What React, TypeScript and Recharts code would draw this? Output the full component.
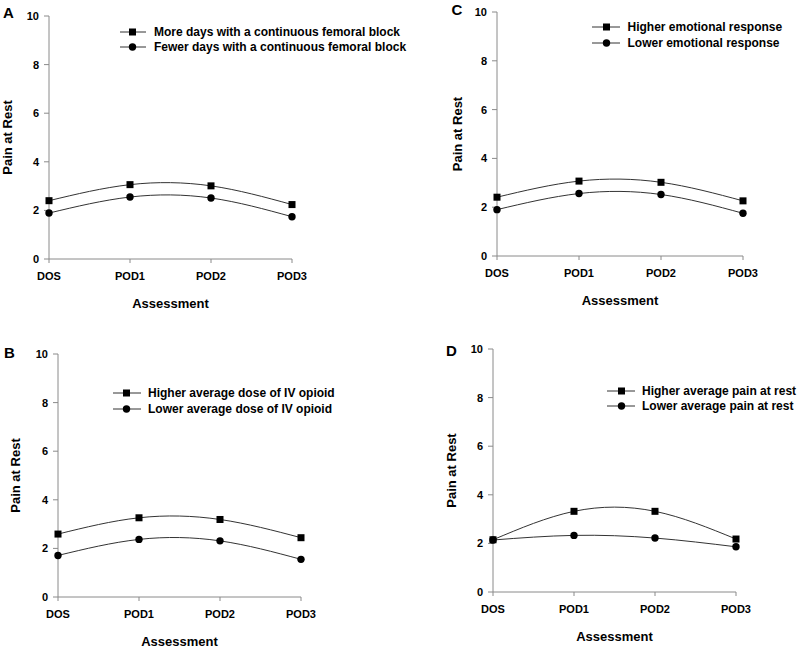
import { LineChart, Line, XAxis, YAxis, Legend } from 'recharts'

const categories = ['DOS', 'POD1', 'POD2', 'POD3']
const yTicks = [0, 2, 4, 6, 8, 10]

// panel A
const moreBlockDays = [2.4, 3.06, 3.01, 2.24]
const fewerBlockDays = [1.89, 2.55, 2.51, 1.74]
// panel B
const higherOpioid = [2.59, 3.26, 3.19, 2.44]
const lowerOpioid = [1.71, 2.37, 2.31, 1.55]
// panel C
const higherEmotional = [2.41, 3.07, 3.02, 2.26]
const lowerEmotional = [1.9, 2.56, 2.52, 1.75]
// panel D
const higherPain = [2.15, 3.32, 3.32, 2.18]
const lowerPain = [2.14, 2.33, 2.22, 1.86]

const toRows = (high: number[], low: number[]) =>
  categories.map((name, i) => ({ name, high: high[i], low: low[i] }))

const FONT = 'Arial, "Liberation Sans", sans-serif'
const AXIS = '#8a8a8a'
const LINE = '#333'
const INK = '#000'

const Y_W = 45
const TOP = 20
const X_H = 55
const PANEL_W = 400

type LegendCfg = { x: number; y: number; lineLen: number; markX: number; gap: number; rowH: number }

type PanelCfg = {
  letter: string
  letterX: number
  letterY: number
  highName: string
  lowName: string
  high: number[]
  low: number[]
  x0: number
  x1: number
  y0: number
  y1: number
  chartLeft: number
  yLabelX: number
  legend: LegendCfg
}

const panels: PanelCfg[] = [
  {
    letter: 'A', letterX: 3, letterY: 5,
    highName: 'More days with a continuous femoral block',
    lowName: 'Fewer days with a continuous femoral block',
    high: moreBlockDays, low: fewerBlockDays,
    x0: 49, x1: 292, y0: 16, y1: 259, chartLeft: 0, yLabelX: 7.5,
    legend: { x: 120, y: 32.3, lineLen: 26, markX: 12.5, gap: 8, rowH: 15 },
  },
  {
    letter: 'B', letterX: 4, letterY: 345,
    highName: 'Higher average dose of IV opioid',
    lowName: 'Lower average dose of IV opioid',
    high: higherOpioid, low: lowerOpioid,
    x0: 58, x1: 301, y0: 354, y1: 597, chartLeft: 0, yLabelX: 15.5,
    legend: { x: 113, y: 392.7, lineLen: 28, markX: 13.5, gap: 7, rowH: 16.5 },
  },
  {
    letter: 'C', letterX: 451.5, letterY: 1.5,
    highName: 'Higher emotional response',
    lowName: 'Lower emotional response',
    high: higherEmotional, low: lowerEmotional,
    x0: 497, x1: 743, y0: 12, y1: 256, chartLeft: 400, yLabelX: 457.5,
    legend: { x: 592, y: 26.7, lineLen: 28, markX: 14.5, gap: 7.5, rowH: 16 },
  },
  {
    letter: 'D', letterX: 446, letterY: 343,
    highName: 'Higher average pain at rest',
    lowName: 'Lower average pain at rest',
    high: higherPain, low: lowerPain,
    x0: 493, x1: 736, y0: 349, y1: 592, chartLeft: 400, yLabelX: 451.3,
    legend: { x: 607, y: 390.7, lineLen: 28, markX: 14.5, gap: 7, rowH: 15.3 },
  },
]

const squareDot = (props: any) => {
  const { cx, cy, index } = props
  return <rect key={`sq-${index}`} x={cx - 3.5} y={cy - 3.5} width={7} height={7} fill={INK} />
}

const circleDot = (props: any) => {
  const { cx, cy, index } = props
  return <circle key={`ci-${index}`} cx={cx} cy={cy} r={3.7} fill={INK} />
}

function legendContent(cfg: LegendCfg) {
  return ({ payload }: any) => (
    <div>
      {(payload || []).map((entry: any) => (
        <div key={entry.dataKey} style={{ display: 'flex', alignItems: 'center', height: cfg.rowH }}>
          <svg width={cfg.lineLen} height={10} style={{ display: 'block' }}>
            <line x1={0} x2={cfg.lineLen} y1={5} y2={5} stroke={LINE} />
            {entry.dataKey === 'high' ? (
              <rect x={cfg.markX - 3.5} y={1.5} width={7} height={7} fill={INK} />
            ) : (
              <circle cx={cfg.markX} cy={5} r={3.7} fill={INK} />
            )}
          </svg>
          <span
            style={{
              marginLeft: cfg.gap,
              fontFamily: FONT,
              fontSize: 12,
              fontWeight: 700,
              lineHeight: 1,
              whiteSpace: 'nowrap',
              color: INK,
            }}
          >
            {entry.value}
          </span>
        </div>
      ))}
    </div>
  )
}

function Panel({ cfg }: { cfg: PanelCfg }) {
  const plotW = cfg.x1 - cfg.x0
  const plotH = cfg.y1 - cfg.y0
  const left = cfg.chartLeft
  const top = cfg.y0 - TOP
  const marginLeft = cfg.x0 - Y_W - left
  const width = PANEL_W
  const height = TOP + plotH + X_H
  const right = width - marginLeft - Y_W - plotW
  const tickStyle = { fill: INK, fontSize: 11, fontWeight: 700, fontFamily: FONT }
  const labelStyle = { fill: INK, fontSize: 13, fontWeight: 700, fontFamily: FONT }

  return (
    <>
      <div
        style={{
          position: 'absolute',
          left: cfg.letterX,
          top: cfg.letterY,
          fontFamily: FONT,
          fontWeight: 700,
          fontSize: 15,
          lineHeight: '15px',
        }}
      >
        {cfg.letter}
      </div>
      <div style={{ position: 'absolute', left, top }}>
        <LineChart
          width={width}
          height={height}
          data={toRows(cfg.high, cfg.low)}
          margin={{ top: TOP, right, bottom: 0, left: marginLeft }}
        >
          <XAxis
            dataKey="name"
            type="category"
            scale="point"
            height={X_H}
            tick={tickStyle}
            tickSize={4}
            tickMargin={9}
            stroke={AXIS}
            tickLine={{ stroke: AXIS }}
            axisLine={{ stroke: AXIS }}
            label={{ value: 'Assessment', position: 'insideBottom', offset: 6.5, style: labelStyle }}
          />
          <YAxis
            type="number"
            domain={[0, 10]}
            ticks={yTicks}
            width={Y_W}
            tick={tickStyle}
            tickSize={5}
            tickMargin={5}
            stroke={AXIS}
            tickLine={{ stroke: AXIS }}
            axisLine={{ stroke: AXIS }}
            label={{
              value: 'Pain at Rest',
              angle: -90,
              position: 'insideLeft',
              offset: cfg.yLabelX - left - marginLeft,
              style: { ...labelStyle, textAnchor: 'middle' },
            }}
          />
          <Legend
            layout="horizontal"
            align="center"
            verticalAlign="middle"
            itemSorter="dataKey"
            content={legendContent(cfg.legend)}
            wrapperStyle={{
              left: cfg.legend.x - left,
              top: cfg.legend.y - top - cfg.legend.rowH / 2,
              width: 'auto',
              height: 'auto',
            }}
          />
          <Line
            type="natural"
            dataKey="high"
            name={cfg.highName}
            stroke={LINE}
            strokeWidth={1}
            dot={squareDot}
            activeDot={false}
            isAnimationActive={false}
          />
          <Line
            type="natural"
            dataKey="low"
            name={cfg.lowName}
            stroke={LINE}
            strokeWidth={1}
            dot={circleDot}
            activeDot={false}
            isAnimationActive={false}
          />
        </LineChart>
      </div>
    </>
  )
}

export default function App() {
  return (
    <div
      style={{
        position: 'absolute',
        left: 0,
        top: 0,
        width: 800,
        height: 647,
        background: '#fff',
        overflow: 'hidden',
        fontFamily: FONT,
      }}
    >
      {panels.map((p) => (
        <Panel key={p.letter} cfg={p} />
      ))}
    </div>
  )
}
